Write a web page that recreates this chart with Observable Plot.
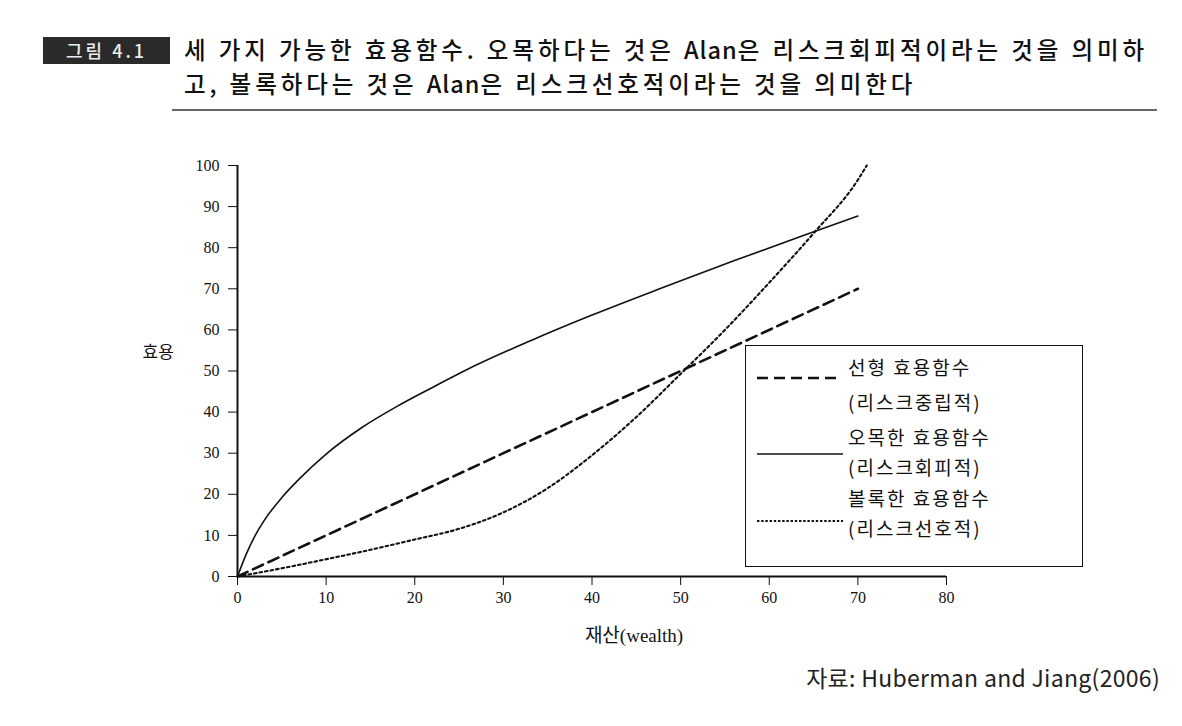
<!DOCTYPE html>
<html>
<head>
<meta charset="utf-8">
<script src="https://cdn.jsdelivr.net/npm/d3@7"></script>
<script src="https://cdn.jsdelivr.net/npm/@observablehq/plot@0.6"></script>
<style>
  html, body { margin: 0; padding: 0; background: #fff; }
  #page { position: relative; width: 1182px; height: 726px; overflow: hidden; background: #fff; }
  #figtag { position: absolute; left: 43px; top: 37px; width: 127px; height: 27px; background: #2a2a2a;
            color: #ececec; font: 500 18px "Noto Sans CJK KR", sans-serif; line-height: 27px; text-align: center; letter-spacing: 3px; }
  .title { position: absolute; left: 184px; font: 500 23.5px "Noto Sans CJK KR", sans-serif; color: #111;
           line-height: 33px; height: 33px; white-space: nowrap; letter-spacing: 3.9px; }
  #rule { position: absolute; left: 172px; top: 109px; width: 985px; height: 0; border-top: 2px solid #666; }
  #chart { position: absolute; left: 0; top: 130px; }
  #legend { position: absolute; left: 745px; top: 345px; width: 336px; height: 220px; border: 1.5px solid #111; background: #fff; }
  .lt { position: absolute; left: 102px; font: 400 19px "Noto Sans CJK KR", sans-serif; color: #111; white-space: nowrap;
        line-height: 22px; letter-spacing: 2px; }
  .ls { position: absolute; left: 11px; }
  #caption { position: absolute; right: 22px; top: 661px; font: 400 23px "Noto Sans CJK KR", sans-serif; color: #222;
             white-space: nowrap; letter-spacing: 0.3px; line-height: 33px; }
</style>
</head>
<body>
<div id="page">
  <div id="figtag">그림 4.1</div>
  <div class="title" id="title1" style="top:33px"></div>
  <div class="title" id="title2" style="top:67px"></div>
  <div id="rule"></div>
  <div id="chart"></div>
  <div id="legend"></div>
  <div id="caption"></div>
</div>
<script>
// ---- data ----
const titleLines = ["세 가지 가능한 효용함수. 오목하다는 것은 Alan은 리스크회피적이라는 것을 의미하",
                    "고, 볼록하다는 것은 Alan은 리스크선호적이라는 것을 의미한다"];
const captionText = "자료: Huberman and Jiang(2006)";
const xLabel = "재산(wealth)";
const yLabel = "효용";
const xTicks = [0, 10, 20, 30, 40, 50, 60, 70, 80];
const yTicks = [0, 10, 20, 30, 40, 50, 60, 70, 80, 90, 100];

// linear utility (risk neutral)
const wealthLinear = [0, 70];
const utilityLinear = [0, 70];

// concave utility (risk averse)
const wealthConcave = [0, 1, 2, 3, 5, 7, 10, 14, 18, 22, 27, 33, 40, 48, 56, 64, 70];
const utilityConcave = [0, 5.5, 10, 13.6, 19.2, 23.8, 29.8, 36.2, 41.4, 46, 51.5, 57.3, 63.6, 70.3, 76.8, 83.1, 87.7];

// convex utility (risk loving)
const wealthConvex = [0, 5, 10, 15, 20, 25, 30, 35, 40, 45, 50, 55, 60, 65, 70, 71];
const utilityConvex = [0, 2.0, 4.2, 6.5, 9.0, 11.6, 15.6, 21.5, 29.5, 38.8, 49.3, 60, 71.5, 83.5, 96.5, 100];

const legendNames = ["선형 효용함수", "(리스크중립적)", "오목한 효용함수", "(리스크회피적)", "볼록한 효용함수", "(리스크선호적)"];

// ---- build ----
const toRows = (xs, ys) => xs.map((x, i) => ({x, y: ys[i]}));
const linear = toRows(wealthLinear, utilityLinear);
const concave = toRows(wealthConcave, utilityConcave);
const convex = toRows(wealthConvex, utilityConvex);

const dashStyle = {strokeWidth: 2.6, strokeDasharray: "11 6"};
const solidStyle = {strokeWidth: 1.6};
const dotStyle = {strokeWidth: 2.1, strokeDasharray: "2.6 3"};

const plot = Plot.plot({
  width: 1182,
  height: 520,
  marginLeft: 237,
  marginRight: 236,
  marginTop: 35,
  marginBottom: 74,
  style: {background: "#fff", color: "#111", fontFamily: "'Liberation Serif', serif", fontSize: "16px"},
  x: {domain: [0, 80], ticks: xTicks, label: null, tickSize: 9, tickPadding: 6},
  y: {domain: [0, 100], ticks: yTicks, label: null, tickSize: 9, tickPadding: 9},
  marks: [
    Plot.line(linear, {x: "x", y: "y", stroke: "#111", ...dashStyle}),
    Plot.line(concave, {x: "x", y: "y", stroke: "#111", curve: "monotone-x", ...solidStyle}),
    Plot.line(convex, {x: "x", y: "y", stroke: "#111", curve: "monotone-x", ...dotStyle}),
    Plot.ruleX([0], {stroke: "#111", strokeWidth: 2}),
    Plot.ruleY([0], {stroke: "#111", strokeWidth: 2}),
    Plot.text([yLabel], {frameAnchor: "left", textAnchor: "start", dx: -95, dy: -18, text: d => d,
      fontFamily: "'Noto Sans CJK KR', sans-serif", fontSize: 17, fill: "#111"}),
    Plot.text([xLabel], {frameAnchor: "bottom", dx: 42, dy: 65, text: d => d,
      fontFamily: "'Liberation Serif', 'Noto Sans CJK KR', serif", fontSize: 19, fill: "#111"})
  ]
});
document.getElementById("chart").appendChild(plot);

// title: keep Latin words at normal spacing
const fillTitle = (el, s) => {
  s.split(/(Alan)/).forEach(part => {
    const span = document.createElement("span");
    span.textContent = part;
    if (part === "Alan") span.style.letterSpacing = "1px";
    el.appendChild(span);
  });
};
fillTitle(document.getElementById("title1"), titleLines[0]);
fillTitle(document.getElementById("title2"), titleLines[1]);
document.getElementById("caption").textContent = captionText;

// legend
const legend = document.getElementById("legend");
const textTops = [10, 45, 80, 110, 141, 171];
legendNames.forEach((t, i) => {
  const d = document.createElement("div");
  d.className = "lt";
  d.style.top = textTops[i] + "px";
  d.textContent = t;
  legend.appendChild(d);
});
const samples = [
  {top: 32, w: 82, style: dashStyle},
  {top: 108, w: 86, style: solidStyle},
  {top: 175, w: 86, style: {strokeWidth: 2, strokeDasharray: "2.4 1.8"}}
];
samples.forEach(s => {
  const svg = d3.create("svg").attr("class", "ls").attr("width", s.w).attr("height", 6)
    .style("top", (s.top - 3) + "px");
  svg.append("line").attr("x1", 0).attr("x2", s.w).attr("y1", 3).attr("y2", 3)
    .attr("stroke", "#111").attr("stroke-width", s.style.strokeWidth)
    .attr("stroke-dasharray", s.style.strokeDasharray || null);
  legend.appendChild(svg.node());
});
</script>
</body>
</html>
